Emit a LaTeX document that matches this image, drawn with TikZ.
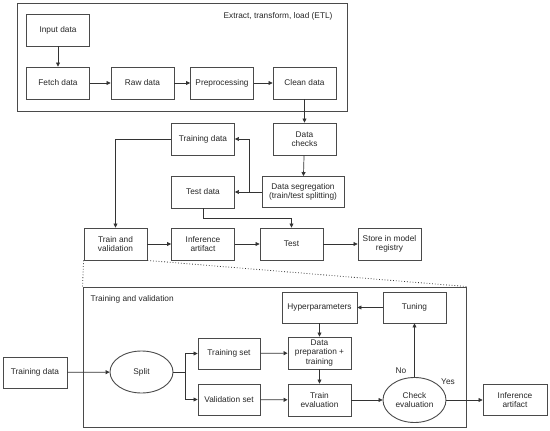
\documentclass[tikz,border=0pt]{standalone}
\usepackage{fontspec}
\setmainfont{Liberation Sans}
\usetikzlibrary{arrows.meta,shapes.geometric}
\definecolor{edge}{HTML}{4A4A4A}
\definecolor{ln}{HTML}{333333}
\tikzset{
  every node/.style={font=\fontsize{8.3}{9.6}\selectfont, text=black!85},
  bx/.style={draw=edge, line width=0.9pt, rectangle, align=center, inner sep=1pt, minimum width=63pt, minimum height=32pt},
  el/.style={draw=edge, line width=0.9pt, ellipse, align=center, inner sep=0pt, minimum width=63pt, minimum height=42pt},
  grp/.style={draw=edge, line width=0.9pt, rectangle, inner sep=0pt},
  arr/.style={draw=ln, line width=0.7pt, -{Triangle[length=4pt,width=4pt]}},
  ln/.style={draw=ln, line width=0.7pt},
  dot/.style={draw=ln, line width=0.8pt, dotted}
}
\begin{document}
\begin{tikzpicture}[x=1pt,y=-1pt]
\useasboundingbox (0,0) rectangle (550,431);
% group boxes
\node[grp, minimum width=330pt, minimum height=108pt] (etl) at (182,57) {};
\node[anchor=north east] (etlt) at (336,9) {Extract, transform, load (ETL)};
\node[grp, minimum width=383pt, minimum height=140pt] (tvg) at (274.5,357) {};
\node[anchor=north west] (tvgt) at (87,292) {Training and validation};
% ETL
\node[bx] (in) at (58,30) {Input data};
\node[bx] (fetch) at (58,83) {Fetch data};
\node[bx] (raw) at (142.5,83) {Raw data};
\node[bx] (pre) at (222,83) {Preprocessing};
\node[bx] (clean) at (304.5,83) {Clean data};
% middle
\node[bx] (checks) at (304.5,139) {Data\\checks};
\node[bx, minimum width=82pt, minimum height=31pt] (seg) at (303,192) {Data segregation\\(train/test splitting)};
\node[bx] (trd) at (203,139) {Training data};
\node[bx] (ted) at (203,192) {Test data};
\node[bx] (tv) at (115.5,244) {Train and\\validation};
\node[bx] (inf) at (203,244) {Inference\\artifact};
\node[bx] (test) at (291.5,244) {Test};
\node[bx] (store) at (389.5,244) {Store in model\\registry};
% bottom
\node[bx, minimum width=64pt, minimum height=31pt] (trd2) at (35,372.5) {Training data};
\node[el] (split) at (141.5,372) {Split};
\node[bx, minimum width=62pt, minimum height=31pt] (tset) at (229,353.5) {Training set};
\node[bx, minimum width=62pt, minimum height=31pt] (vset) at (229,399.5) {Validation set};
\node[bx, minimum width=75pt, minimum height=31pt] (hyp) at (319.5,307.5) {Hyperparameters};
\node[bx, minimum height=31pt] (tun) at (414.5,307.5) {Tuning};
\node[bx] (prep) at (319.5,353) {Data\\preparation +\\training};
\node[bx] (teval) at (319.5,400) {Train\\evaluation};
\node[el, minimum height=45pt] (check) at (414.5,400) {Check\\evaluation};
\node[bx, minimum width=64pt, minimum height=31pt] (inf2) at (515,400) {Inference\\artifact};
\node (no) at (401,371) {No};
\node (yes) at (448,382) {Yes};
% ETL arrows
\draw[arr] (in) -- (fetch);
\draw[arr] (fetch) -- (raw);
\draw[arr] (raw) -- (pre);
\draw[arr] (pre) -- (clean);
\draw[arr] (clean) -- (checks);
\draw[arr] (checks) -- (seg);
\coordinate (gj) at (249,192);
\draw[ln] (seg.west) -- (gj);
\draw[arr] (gj) -- (ted.east);
\draw[arr] (gj) |- (trd.east);
\draw[arr] (trd.west) -| (tv.north);
\coordinate (tj) at (291.5,218);
\draw[arr] (ted.south) |- (tj) -- (test.north);
\draw[arr] (tv) -- (inf);
\draw[arr] (inf) -- (test);
\draw[arr] (test) -- (store);
% dotted
\draw[dot] (tv.south west) -- (tvg.north west);
\draw[dot] (tv.south east) -- (tvg.north east);
% bottom arrows
\draw[arr] (trd2) -- (split);
\coordinate (sj) at (185,372);
\draw[ln] (split.east) -- (sj);
\draw[arr] (sj) |- (tset.west);
\draw[arr] (sj) |- (vset.west);
\draw[arr] (tset) -- (prep);
\draw[arr] (vset) -- (teval);
\draw[arr] (hyp) -- (prep);
\draw[arr] (prep) -- (teval);
\draw[arr] (teval) -- (check);
\draw[arr] (check) -- (tun);
\draw[arr] (tun) -- (hyp);
\draw[arr] (check) -- (inf2);
\end{tikzpicture}
\end{document}
